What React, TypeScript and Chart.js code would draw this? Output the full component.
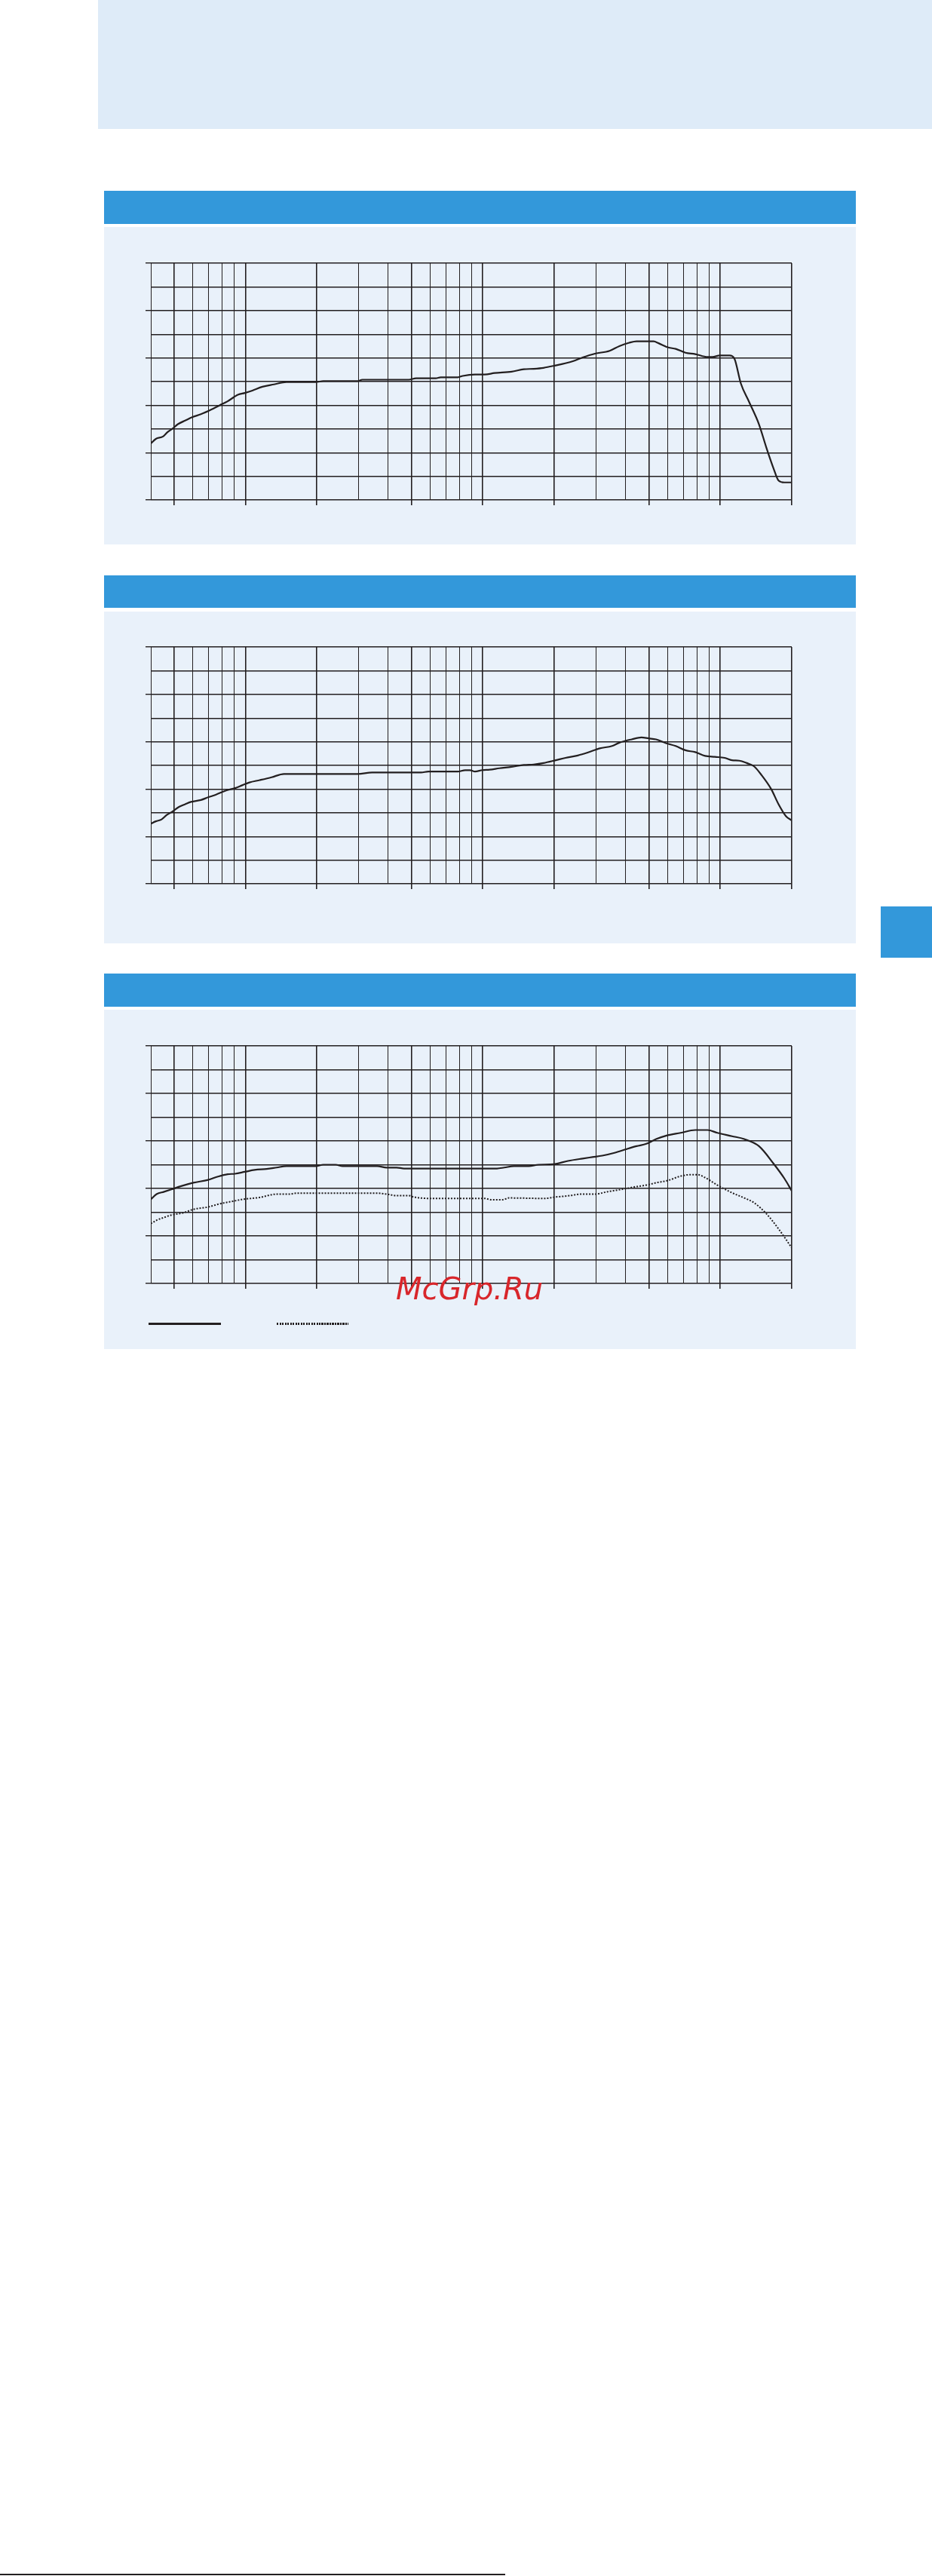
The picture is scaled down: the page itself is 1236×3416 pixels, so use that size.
import React, { useEffect, useRef } from "react";
import { Chart, registerables } from "chart.js";

Chart.register(...registerables);

// ---------- axis definitions ----------
const FREQ_TICKS = [40, 50, 60, 70, 80, 90, 100, 200, 300, 400, 500, 600, 700, 800, 900, 1000, 2000, 3000, 4000, 5000, 6000, 7000, 8000, 9000, 10000, 20000];
const FREQ_MAJOR = [50, 100, 200, 500, 1000, 2000, 5000, 10000, 20000];
const LEVEL_TICKS = [20, 15, 10, 5, 0, -5, -10, -15, -20, -25, -30];
const LEVEL_MAJOR = [20, 10, 0, -10, -20, -30];

// ---------- chart 1 ----------
const chart1Freq = [40, 42, 45, 47, 49.5, 52, 56, 60, 65, 72, 78, 84, 93, 99.5, 107, 118, 132, 149, 198, 213, 297, 311, 488, 524, 634, 665, 785, 823, 927, 1019, 1121, 1323, 1490, 1639, 1802, 1981, 2395, 2634, 2967, 3420, 3760, 4135, 4440, 5244, 5497, 6044, 6491, 7137, 7848, 8840, 9268, 9951, 10945, 11476, 12208, 13228, 14551, 15627, 16781, 17596, 18621, 20000];
const chart1Level = [-18.1, -17.1, -16.6, -15.7, -14.9, -14.0, -13.2, -12.5, -11.9, -10.9, -10.0, -9.2, -7.8, -7.4, -6.9, -6.1, -5.6, -5.1, -5.1, -4.9, -4.9, -4.6, -4.6, -4.3, -4.3, -4.1, -4.1, -3.8, -3.5, -3.5, -3.2, -2.9, -2.4, -2.3, -2.1, -1.7, -0.7, 0.1, 0.9, 1.5, 2.5, 3.2, 3.5, 3.5, 3.1, 2.2, 1.9, 1.1, 0.8, 0.2, 0.2, 0.5, 0.5, -0.2, -5.4, -9.3, -14.0, -18.9, -23.4, -25.9, -26.3, -26.3];

// ---------- chart 2 ----------
const chart2Freq = [40, 42, 44.4, 46.6, 49.5, 52.4, 55.8, 59, 65, 70, 75, 83, 90.5, 97, 104, 115, 129, 145.5, 297, 342, 550, 590, 785, 843, 884, 927, 995, 1069, 1175, 1323, 1490, 1639, 1802, 2029, 2231, 2512, 2762, 3110, 3502, 3760, 4234, 4656, 5000, 5368, 5904, 6491, 7137, 7848, 8630, 9493, 10439, 11208, 12037, 12924, 13876, 14900, 16385, 17596, 18893, 20000];
const chart2Level = [-17.3, -16.8, -16.4, -15.5, -14.7, -13.8, -13.2, -12.7, -12.3, -11.7, -11.2, -10.3, -9.8, -9.2, -8.6, -8.1, -7.5, -6.8, -6.8, -6.5, -6.5, -6.3, -6.3, -6.0, -6.0, -6.3, -6.0, -5.9, -5.6, -5.3, -4.9, -4.8, -4.5, -3.9, -3.4, -2.9, -2.3, -1.4, -0.9, -0.2, 0.5, 0.9, 0.7, 0.5, -0.3, -0.9, -1.8, -2.2, -3.0, -3.2, -3.4, -3.9, -4.0, -4.5, -5.2, -7.0, -10.0, -13.2, -15.7, -16.6];

// ---------- chart 3 (solid and dotted curves) ----------
const chart3SolidFreq = [40, 42.3, 45.5, 48.8, 53.7, 60.4, 69.7, 76.7, 84.3, 90.5, 99.5, 109.4, 123, 135.5, 149, 198, 213, 240, 257, 359, 394, 434, 466, 1147, 1232, 1355, 1562, 1718, 1981, 2284, 2634, 2896, 3185, 3586, 4038, 4440, 4882, 5368, 5904, 6808, 7848, 8840, 9720, 11208, 12620, 14551, 16781, 18621, 20000];
const chart3SolidLevel = [-12.3, -11.2, -10.7, -10.2, -9.5, -8.8, -8.2, -7.5, -7.0, -6.9, -6.5, -6.1, -5.9, -5.6, -5.3, -5.3, -5.0, -5.0, -5.3, -5.3, -5.6, -5.6, -5.8, -5.8, -5.6, -5.3, -5.3, -5.0, -4.9, -4.2, -3.7, -3.4, -3.1, -2.5, -1.7, -1.1, -0.6, 0.4, 1.1, 1.7, 2.3, 2.3, 1.7, 1.0, 0.4, -1.1, -4.8, -7.9, -10.5];
const chart3DottedFreq = [40, 42.3, 45.5, 48.8, 55, 60.4, 69.7, 78.5, 88.4, 97.2, 114.7, 135.5, 152.6, 163.8, 359, 394, 434, 488, 512, 604, 1019, 1094, 1204, 1292, 1802, 2029, 2339, 2572, 2967, 3339, 3943, 4440, 4882, 5368, 6044, 6808, 7487, 8040, 8630, 9720, 11208, 12620, 13876, 15627, 17596, 20000];
const chart3DottedLevel = [-17.4, -16.7, -16.1, -15.6, -15.1, -14.4, -13.9, -13.2, -12.7, -12.3, -11.9, -11.2, -11.2, -11.0, -11.0, -11.2, -11.5, -11.5, -11.8, -12.1, -12.1, -12.4, -12.4, -12.0, -12.1, -11.8, -11.5, -11.2, -11.2, -10.7, -10.1, -9.6, -9.3, -8.8, -8.3, -7.4, -7.1, -7.1, -7.7, -9.3, -10.9, -12.0, -13.0, -15.3, -18.5, -22.5];

const INK = "#231f20";
const BLUE = "#3398da";
const PANEL = "#e9f1fa";
const BANNER = "#deebf8";

type Series = { freq: number[]; level: number[]; width: number; dash: number[] };

const PAD_L = 13;
const PAD_T = 10;
const PAD_R = 20;
const PAD_B = 10;
const TICK = 7;

function ResponseChart({ plotLeft, plotTop, plotWidth, plotHeight, series }: { plotLeft: number; plotTop: number; plotWidth: number; plotHeight: number; series: Series[] }) {
  const ref = useRef<HTMLCanvasElement>(null);
  const cw = PAD_L + TICK + plotWidth + PAD_R;
  const ch = PAD_T + plotHeight + TICK + PAD_B;
  useEffect(() => {
    const canvas = ref.current;
    if (!canvas) return;
    const chart = new Chart(canvas, {
      type: "line",
      data: {
        datasets: series.map((s) => ({
          data: s.freq.map((f, i) => ({ x: f, y: s.level[i] })),
          borderColor: INK,
          borderWidth: s.width,
          borderDash: s.dash,
          pointRadius: 0,
          fill: false,
          cubicInterpolationMode: "monotone" as const,
        })),
      },
      options: {
        animation: false,
        responsive: false,
        devicePixelRatio: 1,
        events: [],
        layout: { padding: { left: PAD_L, top: PAD_T, right: PAD_R, bottom: PAD_B } },
        plugins: { legend: { display: false }, tooltip: { enabled: false }, title: { display: false } },
        scales: {
          x: {
            type: "logarithmic",
            min: 40,
            max: 20000,
            border: { display: false },
            ticks: { display: false, autoSkip: false },
            afterBuildTicks: (s: any) => {
              s.ticks = FREQ_TICKS.map((v) => ({ value: v }));
            },
            afterFit: (s: any) => {
              s.height = TICK;
            },
            grid: {
              color: INK,
              drawTicks: true,
              tickLength: TICK,
              lineWidth: (ctx: any) => (FREQ_MAJOR.includes(ctx.tick?.value) ? 1.6 : 1),
              tickWidth: 1.6,
              tickColor: (ctx: any) => (FREQ_MAJOR.includes(ctx.tick?.value) ? INK : "rgba(0,0,0,0)"),
            },
          },
          y: {
            type: "linear",
            min: -30,
            max: 20,
            border: { display: false },
            ticks: { display: false, autoSkip: false },
            afterBuildTicks: (s: any) => {
              s.ticks = LEVEL_TICKS.map((v) => ({ value: v }));
            },
            afterFit: (s: any) => {
              s.width = TICK;
            },
            grid: {
              color: INK,
              drawTicks: true,
              tickLength: TICK,
              lineWidth: 1.4,
              tickWidth: 1.4,
              tickColor: (ctx: any) => (LEVEL_MAJOR.includes(ctx.tick?.value) ? INK : "rgba(0,0,0,0)"),
            },
          },
        },
      },
    } as any);
    return () => chart.destroy();
  }, []);
  return (
    <canvas
      ref={ref}
      width={cw}
      height={ch}
      style={{ position: "absolute", left: plotLeft - TICK - PAD_L, top: plotTop - PAD_T, width: cw, height: ch }}
    />
  );
}

function Box({ x, y, w, h, c, z }: { x: number; y: number; w: number; h: number; c: string; z?: number }) {
  return <div style={{ position: "absolute", left: x, top: y, width: w, height: h, background: c, zIndex: z }} />;
}

export default function App() {
  useEffect(() => {
    document.body.style.margin = "0";
  }, []);
  return (
    <div style={{ position: "absolute", left: 0, top: 0, width: 1236, height: 3416, overflow: "hidden", background: "#ffffff" }}>
      <Box x={130} y={0} w={1106} h={171} c={BANNER} />

      {/* chart 1 */}
      <Box x={138} y={253} w={997} h={44} c={BLUE} />
      <Box x={138} y={301} w={997} h={421} c={PANEL} />
      <ResponseChart plotLeft={200} plotTop={349} plotWidth={850} plotHeight={314} series={[{ freq: chart1Freq, level: chart1Level, width: 2.2, dash: [] }]} />

      {/* chart 2 */}
      <Box x={138} y={763} w={997} h={43} c={BLUE} />
      <Box x={138} y={811} w={997} h={440} c={PANEL} />
      <ResponseChart plotLeft={200} plotTop={858} plotWidth={850} plotHeight={314} series={[{ freq: chart2Freq, level: chart2Level, width: 2.2, dash: [] }]} />

      {/* chart 3 */}
      <Box x={138} y={1291} w={997} h={44} c={BLUE} />
      <Box x={138} y={1339} w={997} h={450} c={PANEL} />
      <ResponseChart
        plotLeft={200}
        plotTop={1387}
        plotWidth={850}
        plotHeight={315}
        series={[
          { freq: chart3SolidFreq, level: chart3SolidLevel, width: 2.2, dash: [] },
          { freq: chart3DottedFreq, level: chart3DottedLevel, width: 2, dash: [2, 2] },
        ]}
      />
      {/* legend samples */}
      <Box x={197} y={1754} w={96} h={3} c={INK} />
      <div
        style={{
          position: "absolute",
          left: 367,
          top: 1754,
          width: 95,
          height: 3,
          background: `repeating-linear-gradient(90deg, ${INK} 0px, ${INK} 2px, transparent 2px, transparent 3.5px)`,
        }}
      />
      {/* watermark */}
      <div
        style={{
          position: "absolute",
          left: 525,
          top: 1689,
          fontFamily: "'DejaVu Sans', sans-serif",
          fontStyle: "italic",
          fontSize: 40,
          lineHeight: "40px",
          color: "#d8262b",
          whiteSpace: "nowrap",
          zIndex: 5,
        }}
      >
        McGrp.Ru
      </div>

      {/* side tab */}
      <Box x={1168} y={1202} w={68} h={68} c={BLUE} />

      {/* bottom rule */}
      <Box x={0} y={3413} w={670} h={2} c={INK} />
    </div>
  );
}
